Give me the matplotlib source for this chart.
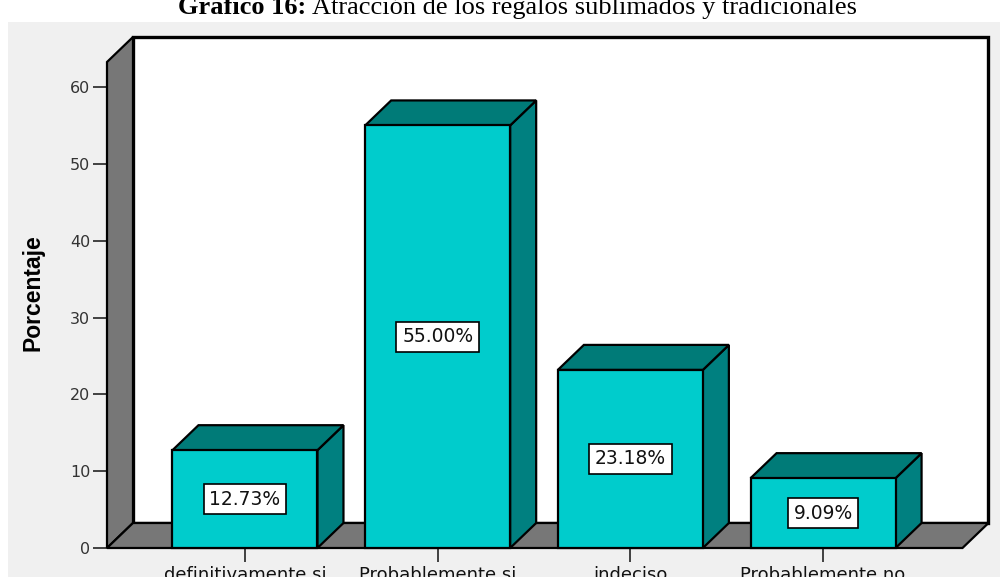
import numpy as np
import matplotlib.pyplot as plt
from matplotlib.patches import Polygon, Rectangle

categorias = ['definitivamente si', 'Probablemente si', 'indeciso', 'Probablemente no']
porcentajes = [12.73, 55.00, 23.18, 9.09]
etiquetas = ['12.73%', '55.00%', '23.18%', '9.09%']
yticks = [0, 10, 20, 30, 40, 50, 60]

W, H = 1008, 577
fig = plt.figure(figsize=(W / 100, H / 100), dpi=100)
fig.patch.set_facecolor('white')

# gray panel behind the chart
fig.patches.append(Rectangle((8 / W, 0), (1000 - 8) / W, 1 - 22 / H,
                             transform=fig.transFigure, facecolor='#f0f0f0',
                             edgecolor='none', zorder=-10))

fig.text(306 / W, 1 - 14 / H, 'Gráfico 16:', ha='right', va='baseline',
         fontsize=19, fontweight='bold', family='Liberation Serif')
fig.text(312 / W, 1 - 14 / H, 'Atracción de los regalos sublimados y tradicionales',
         ha='left', va='baseline', fontsize=19, family='Liberation Serif')

# plot box: front floor starts at left edge, back wall ends at right edge
ax = fig.add_axes([107 / W, (H - 548) / H, (988 - 107) / W, (548 - 37) / H])
ax.set_facecolor('none')
px_x = 192.7            # pixels per category
px_y = 7.683            # pixels per percent
x0 = -0.716
x1 = x0 + (988 - 107) / px_x
ytop = (548 - 37) / px_y
ax.set_xlim(x0, x1)
ax.set_ylim(0, ytop)

dx = 26 / px_x          # depth offset
dy = 25 / px_y
x_floor_end = (963 - 245.5) / px_x
hw = 72.5 / px_x        # half bar width

edge = dict(edgecolor='black', linewidth=1.6, clip_on=False)
# back wall
ax.add_patch(Polygon([(x0 + dx, dy), (x1, dy), (x1, ytop), (x0 + dx, ytop)],
                     facecolor='white', edgecolor='black', linewidth=2.4,
                     clip_on=False, zorder=1))
# left wall
ax.add_patch(Polygon([(x0, 0), (x0, ytop - dy), (x0 + dx, ytop), (x0 + dx, dy)],
                     facecolor='#777777', zorder=2, **edge))
# floor
ax.add_patch(Polygon([(x0, 0), (x_floor_end, 0), (x_floor_end + dx, dy), (x0 + dx, dy)],
                     facecolor='#777777', zorder=2, **edge))

for i, (v, lab) in enumerate(zip(porcentajes, etiquetas)):
    l, r = i - hw, i + hw
    ax.add_patch(Polygon([(r, 0), (r + dx, dy), (r + dx, v + dy), (r, v)],
                         facecolor='#008080', zorder=3, **edge))
    ax.add_patch(Polygon([(l, v), (r, v), (r + dx, v + dy), (l + dx, v + dy)],
                         facecolor='#007b78', zorder=3, **edge))
    ax.add_patch(Rectangle((l, 0), 2 * hw, v, facecolor='#00cccc', zorder=4, **edge))
    ax.text(i, v / 2, lab, ha='center', va='center', fontsize=13.5, color='#111111',
            zorder=5, bbox=dict(boxstyle='square,pad=0.3', facecolor='white',
                                edgecolor='black', linewidth=1.2))

for s in ax.spines.values():
    s.set_visible(False)

ax.set_yticks(yticks)
ax.set_xticks(range(len(categorias)))
ax.set_xticklabels(categorias)
ax.tick_params(axis='y', direction='out', length=10, width=1.3, color='#333333',
               labelsize=11.5, labelcolor='#333333', pad=2)
ax.tick_params(axis='x', direction='out', length=10, width=1.3, color='#333333',
               labelsize=13, labelcolor='#111111', pad=3)
ax.set_ylabel('Porcentaje', fontsize=16.5, fontweight='bold', family='Liberation Sans',
              labelpad=18)

fig.savefig('out.png', dpi=100)
